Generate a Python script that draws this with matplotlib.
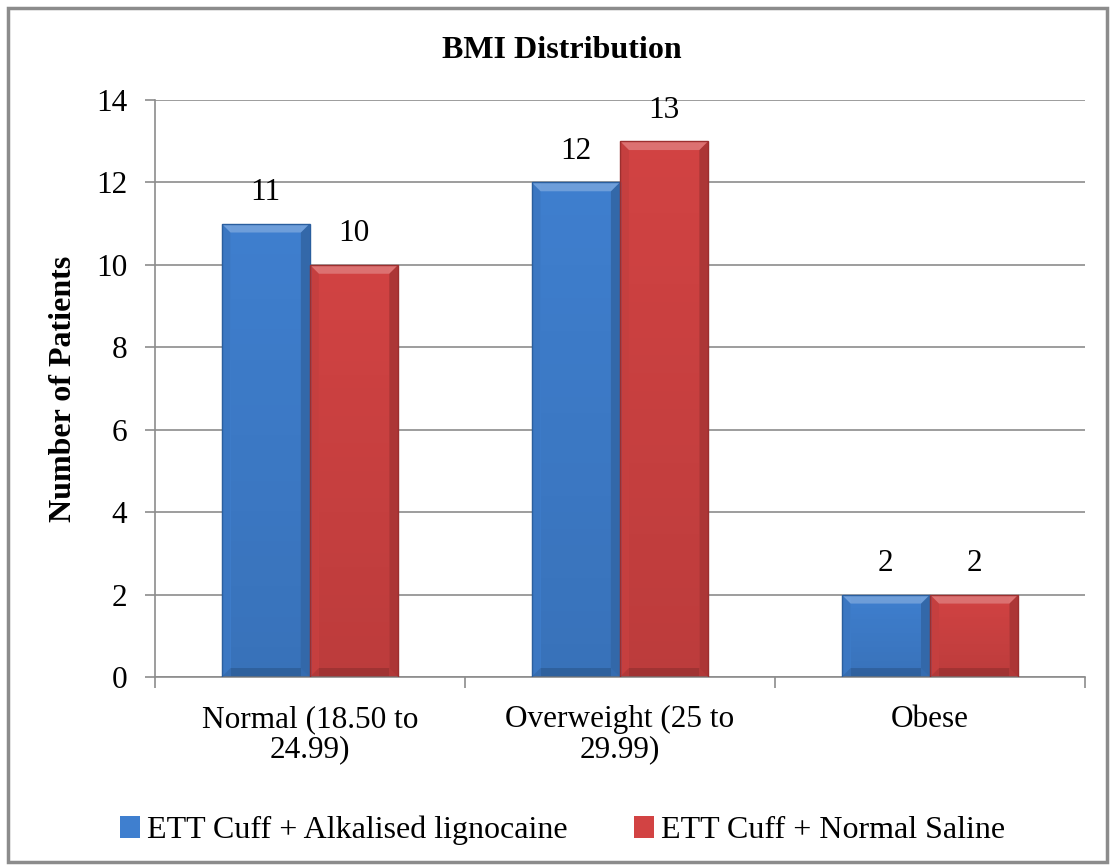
import numpy as np
import matplotlib.pyplot as plt
from matplotlib.patches import Polygon, Rectangle

categories = ['Normal (18.50 to\n24.99)', 'Overweight (25 to\n29.99)', 'Obese']
alkalised = [11, 12, 2]
saline = [10, 13, 2]
series_names = ['ETT Cuff + Alkalised lignocaine', 'ETT Cuff + Normal Saline']

SERIF = 'Liberation Serif'
plt.rcParams['font.family'] = SERIF

fig = plt.figure(figsize=(11.14, 8.68), dpi=100)
ax = fig.add_axes([0.139, 0.22, 0.835, 0.665])

# chart border
fig.patches.append(Rectangle((0.007, 0.007), 0.987, 0.984, transform=fig.transFigure,
                             fill=False, edgecolor='#8c8c8c', linewidth=2.5))

x = np.arange(len(categories))
w = 0.285
colors = [('#3f7fcf', '#2a5e9e'), ('#d24343', '#9c2f2f')]


def bevel(ax, bar, dark):
    # light top, darker sides and bottom, like a raised bar
    x0, y0 = bar.get_x(), bar.get_y()
    x1, y1 = x0 + bar.get_width(), y0 + bar.get_height()
    dx = 9 / 310.0
    dy = 9 / (577 / 14.0)
    inner = [(x0 + dx, y0 + dy), (x1 - dx, y0 + dy), (x1 - dx, y1 - dy), (x0 + dx, y1 - dy)]
    outer = [(x0, y0), (x1, y0), (x1, y1), (x0, y1)]
    shades = [('black', 0.15), ('black', 0.18), ('white', 0.25), ('black', 0.06)]
    for i, (c, a) in enumerate(shades):
        p = [outer[i], outer[(i + 1) % 4], inner[(i + 1) % 4], inner[i]]
        ax.add_patch(Polygon(p, closed=True, facecolor=c, alpha=a, edgecolor='none', zorder=3))
    # slight vertical darkening toward the base
    n = 30
    for j in range(n):
        ya = y0 + (y1 - y0) * j / n
        ax.add_patch(Rectangle((x0 + dx, ya), x1 - x0 - 2 * dx, (y1 - y0) / n,
                               facecolor='black', alpha=0.10 * (1 - j / n),
                               edgecolor='none', zorder=2.5))
    ax.add_patch(Rectangle((x0, y0), x1 - x0, y1 - y0, fill=False, edgecolor=dark,
                           linewidth=1.0, zorder=4))


for k, vals in enumerate([alkalised, saline]):
    pos = x + (k - 0.5) * w
    bars = ax.bar(pos, vals, w, color=colors[k][0], label=series_names[k], zorder=2)
    for b, v in zip(bars, vals):
        bevel(ax, b, colors[k][1])
        ax.text(b.get_x() + w / 2, v + 0.4, str(v), ha='center', va='bottom',
                fontsize=22.5, family=SERIF)

ax.set_xlim(-0.5, 2.5)
ax.set_ylim(0, 14)
ax.set_yticks(range(0, 15, 2))
ax.set_yticklabels([str(t) for t in range(0, 15, 2)], family=SERIF, fontsize=22.5)
ax.yaxis.grid(True, color='#8c8c8c', linewidth=1.2, zorder=0)
ax.set_axisbelow(True)
ax.set_xticks(x)
ax.set_xticklabels(categories, fontsize=22.5, linespacing=1.08, family=SERIF)
ax.set_xticks([-0.5, 0.5, 1.5, 2.5], minor=True)
ax.tick_params(axis='x', which='major', length=0, pad=20)
ax.tick_params(axis='x', which='minor', length=8, color='#8c8c8c', width=1.2)
ax.tick_params(axis='y', length=7, color='#8c8c8c', width=1.2, pad=13)
for s in ['top', 'right']:
    ax.spines[s].set_visible(False)
for s in ['left', 'bottom']:
    ax.spines[s].set_color('#8c8c8c')
    ax.spines[s].set_linewidth(1.2)

ax.set_ylabel('Number of Patients', fontsize=23, fontweight='bold', family=SERIF)
ax.yaxis.set_label_coords(-0.083, 0.5)
fig.text(0.504, 0.942, 'BMI Distribution', ha='center', va='center',
         fontsize=23, fontweight='bold', family=SERIF)

fig.legend(loc='center', bbox_to_anchor=(0.505, 0.043), ncol=2, frameon=False,
           prop={'family': SERIF, 'size': 23}, handlelength=0.62, handleheight=0.7,
           handletextpad=0.2, columnspacing=2.1)

fig.savefig('out.png', dpi=100)
